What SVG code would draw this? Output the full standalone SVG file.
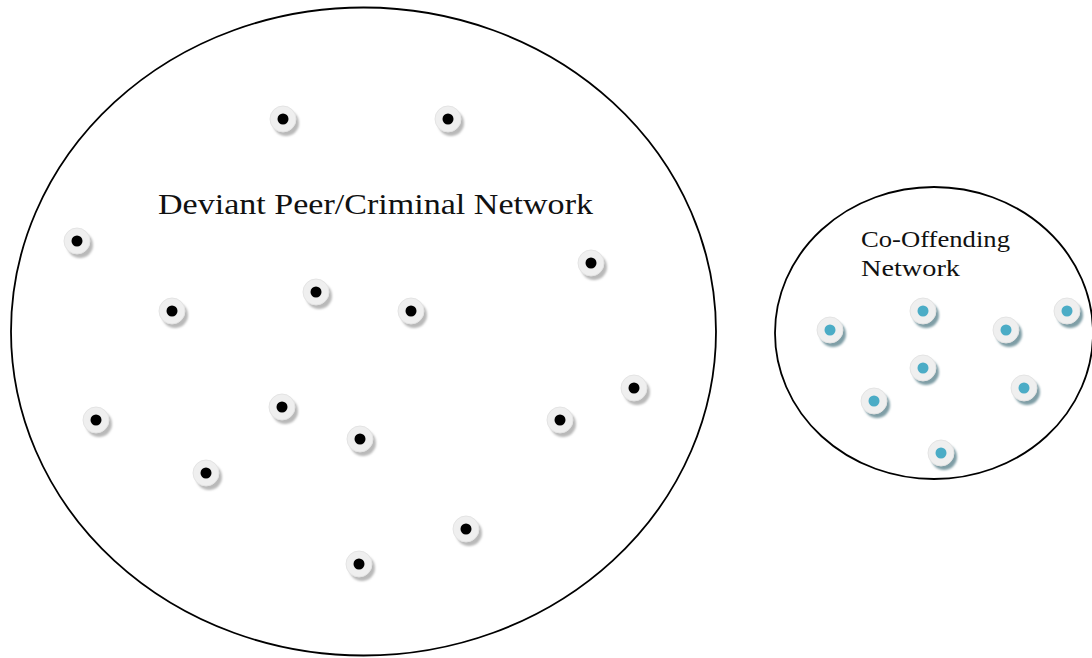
<svg xmlns="http://www.w3.org/2000/svg" width="1092" height="658" viewBox="0 0 1092 658">
<defs>
<style>
.net{fill:none;stroke:#000;stroke-width:1.8}
.lbl{font-family:"Liberation Serif","DejaVu Serif",serif;fill:#111}
.ring{fill:#efefef;stroke:#e4e4e4;stroke-width:1}
.shB{fill:#b9b9b9}
.shC{fill:#7f9ea6}
.dB{fill:#000}
.dC{fill:#4bacc6}
</style>
<filter id="soft" x="-50%" y="-50%" width="200%" height="200%"><feGaussianBlur stdDeviation="0.8"/></filter>
<g id="nb"><circle class="shB" cx="3" cy="4" r="13" filter="url(#soft)"/><circle class="ring" cx="0" cy="0" r="13"/><circle class="dB" cx="0" cy="0" r="5.5"/></g>
<g id="nc"><circle class="shC" cx="3" cy="4" r="13" filter="url(#soft)"/><circle class="ring" cx="0" cy="0" r="13"/><circle class="dC" cx="0" cy="0" r="5.5"/></g>
</defs>
<rect width="1092" height="658" fill="#fff"/>
<g id="connectors"></g>
<g id="deviant-network">
<ellipse class="net" cx="363.5" cy="331.5" rx="352.5" ry="324"/>
<text class="lbl" x="158" y="214" font-size="30" textLength="435" lengthAdjust="spacingAndGlyphs">Deviant Peer/Criminal Network</text>
</g>
<g id="cooffending-network">
<ellipse class="net" cx="934" cy="333" rx="159" ry="146"/>
<text class="lbl" x="861" y="247" font-size="23" textLength="149" lengthAdjust="spacingAndGlyphs">Co-Offending</text>
<text class="lbl" x="861" y="276" font-size="23" textLength="99" lengthAdjust="spacingAndGlyphs">Network</text>
</g>
<g id="node-b1"><use href="#nb" x="283" y="119"/></g>
<g id="node-b2"><use href="#nb" x="448" y="119"/></g>
<g id="node-b3"><use href="#nb" x="77" y="241"/></g>
<g id="node-b4"><use href="#nb" x="591" y="263"/></g>
<g id="node-b5"><use href="#nb" x="172" y="311"/></g>
<g id="node-b6"><use href="#nb" x="316" y="292"/></g>
<g id="node-b7"><use href="#nb" x="411" y="311"/></g>
<g id="node-b8"><use href="#nb" x="96" y="420"/></g>
<g id="node-b9"><use href="#nb" x="282" y="407"/></g>
<g id="node-b10"><use href="#nb" x="360" y="439"/></g>
<g id="node-b11"><use href="#nb" x="560" y="420"/></g>
<g id="node-b12"><use href="#nb" x="634" y="388"/></g>
<g id="node-b13"><use href="#nb" x="206" y="473"/></g>
<g id="node-b14"><use href="#nb" x="466" y="529"/></g>
<g id="node-b15"><use href="#nb" x="359" y="564"/></g>
<g id="node-c1"><use href="#nc" x="830" y="330"/></g>
<g id="node-c2"><use href="#nc" x="923" y="311"/></g>
<g id="node-c3"><use href="#nc" x="1006" y="330"/></g>
<g id="node-c4"><use href="#nc" x="1067" y="311"/></g>
<g id="node-c5"><use href="#nc" x="923" y="368"/></g>
<g id="node-c6"><use href="#nc" x="1024" y="388"/></g>
<g id="node-c7"><use href="#nc" x="874" y="401"/></g>
<g id="node-c8"><use href="#nc" x="941" y="453"/></g>
</svg>
